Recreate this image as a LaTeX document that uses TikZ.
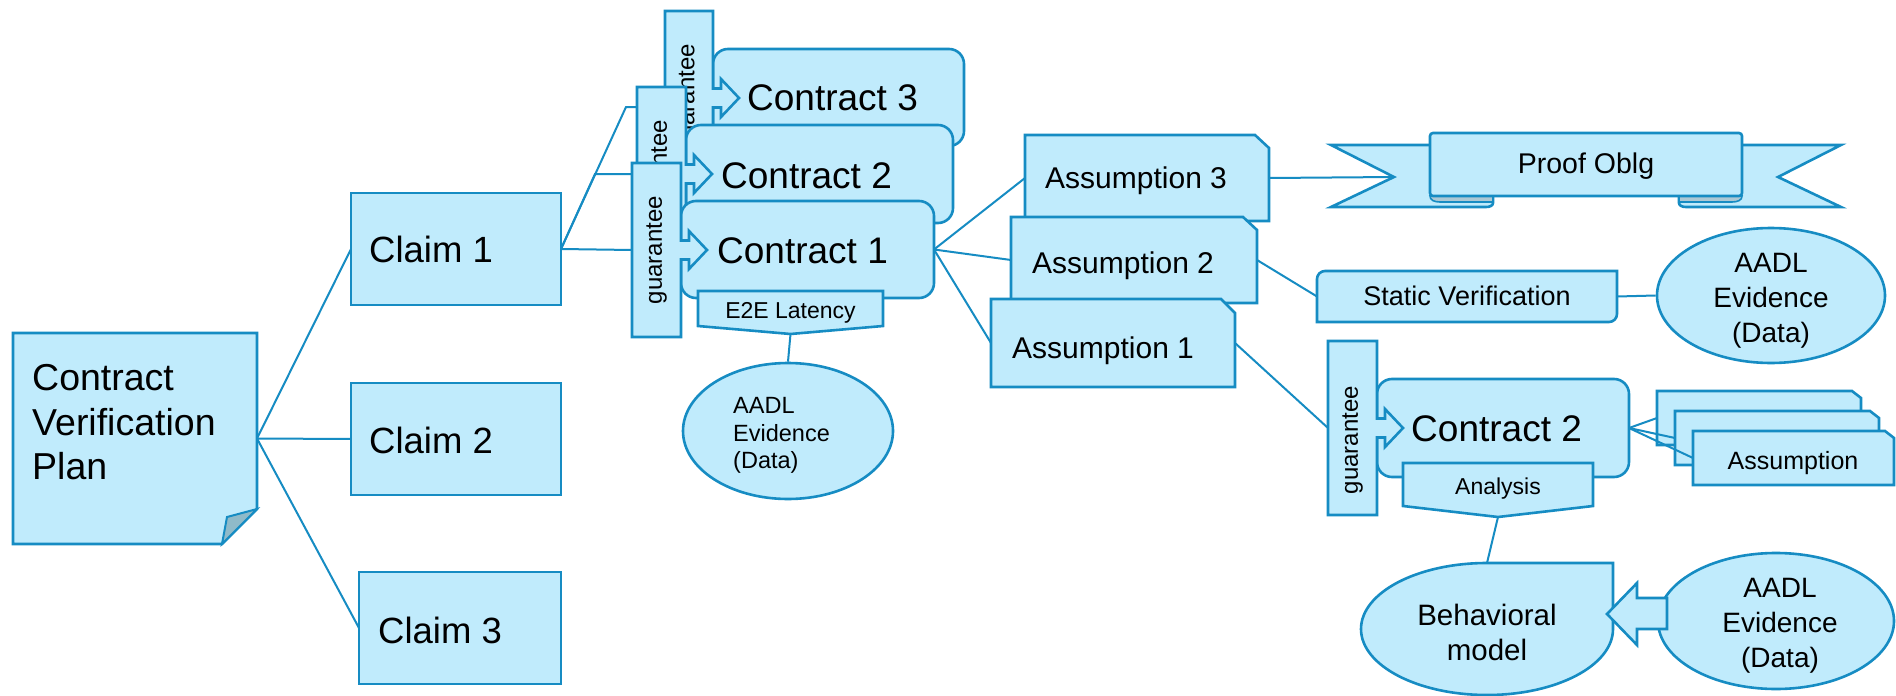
\documentclass[tikz,border=0pt]{standalone}
\usepackage{fontspec}
\setmainfont{Liberation Sans}
\usetikzlibrary{shapes.geometric,backgrounds}
\definecolor{ln}{RGB}{22,140,195}
\definecolor{bg}{RGB}{192,235,252}
\definecolor{foldc}{RGB}{143,186,201}
\definecolor{ribf}{RGB}{172,200,212}
\newcommand\fz[1]{\fontsize{#1}{#1}\selectfont}
\newcommand\gcall[1]{\draw[shp] (#1.north west) -- (#1.north east) -- ([yshift=9.5pt]#1.east) -- ([xshift=8pt,yshift=9.5pt]#1.east) -- ([xshift=8pt,yshift=19pt]#1.east) -- ([xshift=26pt]#1.east) -- ([xshift=8pt,yshift=-19pt]#1.east) -- ([xshift=8pt,yshift=-9.5pt]#1.east) -- ([yshift=-9.5pt]#1.east) -- (#1.south east) -- (#1.south west) -- cycle;}
\newcommand\chbox[3]{\draw[shp] (#1.north west) -- ([xshift=-#2pt]#1.north east) -- ([yshift=-#3pt]#1.north east) -- (#1.south east) -- (#1.south west) -- cycle;}
\tikzset{
  shp/.style={draw=ln, fill=bg, line width=2.6pt, line join=miter},
  conn/.style={draw=ln, line width=2pt},
  frame/.style={inner sep=0pt, outer sep=0pt, anchor=north west},
  txt/.style={inner sep=0pt, anchor=base west, text=black},
  ctxt/.style={inner sep=0pt, anchor=base, text=black},
  gtxt/.style={inner sep=0pt, rotate=90, text=black, font=\fz{24}},
}
\begin{document}
\begin{tikzpicture}[x=1pt,y=-1pt]
\useasboundingbox (0,0) rectangle (1896,696);

% ---------- Contract Verification Plan ----------
\node[frame, minimum width=244pt, minimum height=211pt] (cvp) at (13,333) {};
\draw[shp] (cvp.north west) -- (cvp.north east) -- (257,509) -- (222,544) -- (cvp.south west) -- cycle;
\draw[shp, fill=foldc, line width=2pt] (257,509) -- (227,517) -- (222,544) -- cycle;
\node[txt, font=\fz{37.5}] (cvpa) at (32,390) {Contract};
\node[txt, font=\fz{37.5}] (cvpb) at (32,435) {Verification};
\node[txt, font=\fz{37.5}] (cvpc) at (32,479) {Plan};

% ---------- Claims ----------
\node[shp, frame, minimum width=210pt, minimum height=112pt] (cl1) at (351,193) {};
\node[txt, font=\fz{36.5}] (cl1t) at (369,262) {Claim 1};
\node[shp, frame, minimum width=210pt, minimum height=112pt] (cl2) at (351,383) {};
\node[txt, font=\fz{36.5}] (cl2t) at (369,453) {Claim 2};
\node[shp, frame, minimum width=202pt, minimum height=112pt] (cl3) at (359,572) {};
\node[txt, font=\fz{36.5}] (cl3t) at (378,643) {Claim 3};

% ---------- Contract 3 ----------
\node[shp, frame, rounded corners=15pt, minimum width=251pt, minimum height=97pt] (c3) at (713,49) {};
\node[frame, minimum width=48pt, minimum height=174pt] (g3) at (665,11) {};
\gcall{g3}
\node[gtxt] (g3t) at (g3.center) {guarantee};
\node[txt, font=\fz{37}] (c3t) at (747,110) {Contract 3};

% ---------- Contract 2 ----------
\node[shp, frame, rounded corners=15pt, minimum width=267pt, minimum height=98pt] (c2) at (686,125) {};
\node[frame, minimum width=49pt, minimum height=174pt] (g2) at (637,87) {};
\gcall{g2}
\node[gtxt] (g2t) at (g2.center) {guarantee};
\node[txt, font=\fz{37}] (c2t) at (721,188) {Contract 2};

% ---------- Contract 1 ----------
\node[shp, frame, rounded corners=15pt, minimum width=253pt, minimum height=97pt] (c1) at (681,201) {};
\node[frame, minimum width=49pt, minimum height=174pt] (g1) at (632,163) {};
\gcall{g1}
\node[gtxt] (g1t) at (g1.center) {guarantee};
\node[txt, font=\fz{37}] (c1t) at (717,263) {Contract 1};

% E2E Latency
\node[frame, minimum width=185pt, minimum height=35pt] (e2e) at (698,291) {};
\coordinate (e2ep) at (790.5,334);
\draw[shp] (e2e.north west) -- (e2e.north east) -- (e2e.south east) -- (e2ep) -- (e2e.south west) -- cycle;
\node[ctxt, font=\fz{23}] (e2et) at (790.5,318) {E2E Latency};

% AADL evidence 1
\node[shp, ellipse, inner sep=0pt, minimum width=210pt, minimum height=136pt] (e1) at (788,431) {};
\node[txt, font=\fz{23.5}] (e1a) at (733,413) {AADL};
\node[txt, font=\fz{23.5}] (e1b) at (733,441) {Evidence};
\node[txt, font=\fz{23.5}] (e1c) at (733,468) {(Data)};

% ---------- Assumptions ----------
\node[frame, minimum width=244pt, minimum height=86pt] (a3) at (1025,135) {};
\chbox{a3}{14}{13}
\node[txt, font=\fz{30}] (a3t) at (1045,188) {Assumption 3};
\node[frame, minimum width=246pt, minimum height=86pt] (a2) at (1011,217) {};
\chbox{a2}{14}{13}
\node[txt, font=\fz{30}] (a2t) at (1032,273) {Assumption 2};
\node[frame, minimum width=244pt, minimum height=88pt] (a1) at (991,299) {};
\chbox{a1}{14}{14}
\node[txt, font=\fz{30}] (a1t) at (1012,358) {Assumption 1};

% ---------- Proof Oblg ribbon ----------
\coordinate (nl) at (1394,177);
\draw[shp] (1331,145) -- (1493,145) -- (1493,203) .. controls (1493,205.5) and (1490,207) .. (1486,207) -- (1331,207) -- (nl) -- cycle;
\draw[shp, fill=ribf, line width=1.6pt] (1430,196) .. controls (1430,200) and (1434,202) .. (1440,202) -- (1493,202) -- (1493,196) -- cycle;
\draw[shp] (1841,145) -- (1679,145) -- (1679,203) .. controls (1679,205.5) and (1682,207) .. (1686,207) -- (1841,207) -- (1778,177) -- cycle;
\draw[shp, fill=ribf, line width=1.6pt] (1742,196) .. controls (1742,200) and (1738,202) .. (1732,202) -- (1679,202) -- (1679,196) -- cycle;
\node[shp, frame, rounded corners=3pt, minimum width=312pt, minimum height=63pt] (po) at (1430,133) {};
\node[ctxt, font=\fz{28.5}] (pot) at (1586,173) {Proof Oblg};

% ---------- Static Verification ----------
\node[frame, minimum width=300pt, minimum height=51pt] (sv) at (1317,271) {};
\draw[shp] (1317,322) -- (1317,279) .. controls (1317,274.6) and (1320.6,271) .. (1325,271) -- (1617,271) -- (1617,314) .. controls (1617,318.4) and (1613.4,322) .. (1609,322) -- cycle;
\node[ctxt, font=\fz{27}] (svt) at (1467,305) {Static Verification};

\node[shp, ellipse, inner sep=0pt, minimum width=228pt, minimum height=135pt] (e2) at (1771,295.5) {};
\node[ctxt, font=\fz{28}] (e2a) at (1771,272) {AADL};
\node[ctxt, font=\fz{28}] (e2b) at (1771,307) {Evidence};
\node[ctxt, font=\fz{28}] (e2c) at (1771,342) {(Data)};

% ---------- lower Contract 2 ----------
\node[shp, frame, rounded corners=15pt, minimum width=252pt, minimum height=98pt] (c2b) at (1377,379) {};
\node[frame, minimum width=49pt, minimum height=174pt] (g4) at (1328,341) {};
\gcall{g4}
\node[gtxt] (g4t) at ([yshift=-12pt]g4.center) {guarantee};
\node[txt, font=\fz{37}] (c2bt) at (1411,441) {Contract 2};

% Analysis
\node[frame, minimum width=190pt, minimum height=43pt] (an) at (1403,463) {};
\coordinate (anp) at (1498,517);
\draw[shp] (an.north west) -- (an.north east) -- (an.south east) -- (anp) -- (an.south west) -- cycle;
\node[ctxt, font=\fz{23}] (ant) at (1498,494) {Analysis};

% Behavioral model (teardrop)
\node[frame, minimum width=252pt, minimum height=132pt] (beh) at (1361,563) {};
\draw[shp] (1613,563) -- (1613,629) .. controls (1613,665.45) and (1556.6,695) .. (1487,695) .. controls (1417.4,695) and (1361,665.45) .. (1361,629) .. controls (1361,592.55) and (1417.4,563) .. (1487,563) -- cycle;
\node[ctxt, font=\fz{29.5}] (beha) at (1487,625) {Behavioral};
\node[ctxt, font=\fz{29.5}] (behb) at (1487,660) {model};

% AADL evidence 3 with block arrow
\node[shp, ellipse, inner sep=0pt, minimum width=236pt, minimum height=136pt] (e3) at (1776,621) {};
\draw[shp] (1667,598) -- (1637,598) -- (1637,583) -- (1607,614) -- (1637,645) -- (1637,629) -- (1667,629) -- cycle;
\node[ctxt, font=\fz{28}] (e3a) at (1780,597) {AADL};
\node[ctxt, font=\fz{28}] (e3b) at (1780,632) {Evidence};
\node[ctxt, font=\fz{28}] (e3c) at (1780,667) {(Data)};

% Assumption stack
\node[frame, minimum width=204pt, minimum height=54pt] (s1) at (1657,391) {};
\chbox{s1}{9}{7}
\node[frame, minimum width=204pt, minimum height=54pt] (s2) at (1675,411) {};
\chbox{s2}{9}{7}
\node[frame, minimum width=201pt, minimum height=54pt] (s3) at (1693,431) {};
\chbox{s3}{9}{7}
\node[ctxt, font=\fz{25}] (s3t) at (1793,469) {Assumption};
\draw[conn] (c2b.east) -- (s1.west);
\draw[conn] (c2b.east) -- (s2.west);
\draw[conn] (c2b.east) -- (s3.west);

% ---------- connectors (behind) ----------
\begin{scope}[on background layer]
\fill[white] (0,0) rectangle (1896,696);
\coordinate (b2) at (595,174);
\coordinate (b3) at (626,107);
\draw[conn] (cvp.east) -- (cl1.west);
\draw[conn] (cvp.east) -- (cl2.west);
\draw[conn] (cvp.east) -- (cl3.west);
\draw[conn] (cl1.east) -- (g1.west);
\draw[conn] (cl1.east) -- (b2) -- (g2.west);
\draw[conn] (cl1.east) -- (b3) -- (b3 -| g3.west);
\draw[conn] (c1.east) -- (a3.west);
\draw[conn] (c1.east) -- (a2.west);
\draw[conn] (c1.east) -- (a1.west);
\draw[conn] (e2ep) -- (e1.north);
\draw[conn] (a3.east) -- (nl);
\draw[conn] (a2.east) -- (sv.west);
\draw[conn] (sv.east) -- (e2.west);
\draw[conn] (a1.east) -- (g4.west);
\draw[conn] (anp) -- (beh.north);
\end{scope}
\end{tikzpicture}
\end{document}
